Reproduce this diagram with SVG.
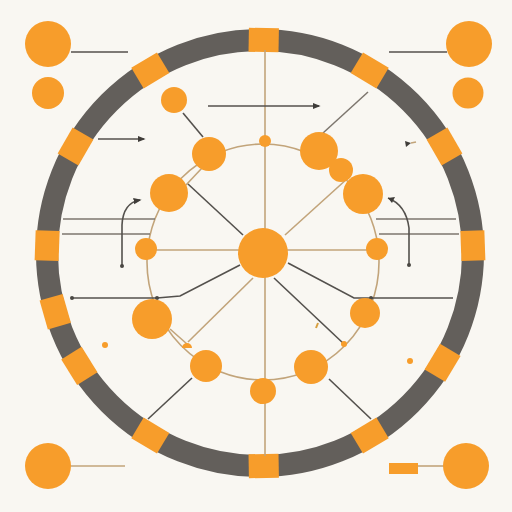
<svg xmlns="http://www.w3.org/2000/svg" width="512" height="512" viewBox="0 0 512 512">
<defs>
<style>
.o{fill:#f79d2b}
.tan{stroke:#c2a47a;stroke-width:1.6;fill:none}
.dk{stroke:#54514d;stroke-width:1.6;fill:none}
.md{stroke:#7d766e;stroke-width:1.5;fill:none}
.dot{fill:#4a4743}
</style>
<marker id="ah" viewBox="0 0 10 10" refX="8" refY="5" markerWidth="5" markerHeight="5" orient="auto">
<path d="M0,1 L10,5 L0,9 Z" fill="#3f3c39"/>
</marker>
<rect id="seg" x="-15" y="-12" width="30" height="24" fill="#f79d2b"/>
</defs>
<rect width="512" height="512" fill="#f9f7f2"/>
<g id="ring">
<circle cx="260" cy="253" r="213" fill="none" stroke="#635f5b" stroke-width="22"/>
<g transform="translate(260,253)">
<use href="#seg" transform="rotate(-89) translate(213,0) rotate(90)"/>
<use href="#seg" transform="rotate(-121) translate(213,0) rotate(90)"/>
<use href="#seg" transform="rotate(-150) translate(213,0) rotate(90)"/>
<use href="#seg" transform="rotate(182) translate(213,0) rotate(90)"/>
<use href="#seg" transform="rotate(164) translate(213,0) rotate(90)"/>
<use href="#seg" transform="rotate(148) translate(213,0) rotate(90)"/>
<use href="#seg" transform="rotate(121) translate(213,0) rotate(90)"/>
<use href="#seg" transform="rotate(89) translate(213,0) rotate(90)"/>
<use href="#seg" transform="rotate(59) translate(213,0) rotate(90)"/>
<use href="#seg" transform="rotate(31) translate(213,0) rotate(90)"/>
<use href="#seg" transform="rotate(-2) translate(213,0) rotate(90)"/>
<use href="#seg" transform="rotate(-30) translate(213,0) rotate(90)"/>
<use href="#seg" transform="rotate(-59) translate(213,0) rotate(90)"/>
</g>
</g>
<g id="connectors">
<ellipse class="tan" cx="263" cy="262" rx="116" ry="118"/>
<line class="tan" x1="265" y1="50" x2="265" y2="456"/>
<line class="tan" x1="146" y1="250" x2="378" y2="250"/>
<line class="tan" x1="285" y1="235" x2="348" y2="178"/>
<line class="tan" x1="253" y1="278" x2="188" y2="342"/>
<line class="tan" x1="170" y1="329" x2="187" y2="344"/>
<line class="tan" x1="202" y1="168" x2="186" y2="185"/>
<line class="tan" x1="71" y1="466" x2="125" y2="466"/>
<line class="tan" x1="418" y1="466" x2="444" y2="466"/>
<line class="md" x1="63" y1="219" x2="155" y2="219"/>
<line class="md" x1="62" y1="234" x2="150" y2="234"/>
<line class="md" x1="376" y1="219" x2="456" y2="219"/>
<line class="md" x1="379" y1="234" x2="459" y2="234"/>
<line class="md" x1="368" y1="92" x2="323" y2="133"/>
<line class="dk" x1="71" y1="52" x2="128" y2="52"/>
<line class="dk" x1="389" y1="52" x2="447" y2="52"/>
<line class="dk" x1="183" y1="113" x2="203" y2="137"/>
<line class="dk" x1="208" y1="106" x2="319" y2="106" marker-end="url(#ah)"/>
<line class="dk" x1="98" y1="139" x2="144" y2="139" marker-end="url(#ah)"/>
<line class="dk" x1="243" y1="235" x2="188" y2="184"/>
<path class="dk" d="M72,298 L157,298 L180,296 L240,265"/>
<path class="dk" d="M288,263 L354,298 L453,298"/>
<line class="dk" x1="274" y1="278" x2="344" y2="344"/>
<line class="dk" x1="329" y1="379" x2="371" y2="419"/>
<line class="dk" x1="192" y1="378" x2="148" y2="419"/>
<path class="dk" d="M122,265 L122,225 Q123,203 140,200" marker-end="url(#ah)"/>
<path class="dk" d="M409,265 L409,228 Q406,205 388,198"/>
<path d="M388,198 L395,197 L392,203 Z" fill="#3f3c39"/>
<path d="M405,141 L411,143 L406,147 Z" fill="#3f3c39"/>
<line class="tan" x1="411" y1="143" x2="416" y2="142"/>
<circle class="dot" cx="72" cy="298" r="2"/>
<circle class="dot" cx="157" cy="298" r="2"/>
<circle class="dot" cx="371" cy="298" r="2"/>
<circle class="dot" cx="122" cy="266" r="2"/>
<circle class="dot" cx="409" cy="265" r="2"/>
<path d="M182,348 A5,5 0 0 1 192,348 Z" class="o"/>
<circle class="o" cx="344" cy="344" r="3"/>
<circle class="o" cx="105" cy="345" r="3"/>
<circle class="o" cx="410" cy="361" r="3"/>
<line x1="316" y1="328" x2="318" y2="323" stroke="#d8a040" stroke-width="2"/>
</g>
<g id="hub"><circle class="o" cx="263" cy="253" r="25"/></g>
<g id="n1"><circle class="o" cx="209" cy="154" r="17"/></g>
<g id="n2"><circle class="o" cx="169" cy="193" r="19"/></g>
<g id="n3"><circle class="o" cx="146" cy="249" r="11"/></g>
<g id="n4"><circle class="o" cx="152" cy="319" r="20"/></g>
<g id="n5"><circle class="o" cx="206" cy="366" r="16"/></g>
<g id="n6"><circle class="o" cx="263" cy="391" r="13"/></g>
<g id="n7"><circle class="o" cx="311" cy="367" r="17"/></g>
<g id="n8"><circle class="o" cx="365" cy="313" r="15"/></g>
<g id="n9"><circle class="o" cx="377" cy="249" r="11"/></g>
<g id="n10"><circle class="o" cx="363" cy="194" r="20"/></g>
<g id="n11"><circle class="o" cx="341" cy="170" r="12"/></g>
<g id="n12"><circle class="o" cx="319" cy="151" r="19"/></g>
<g id="n13"><circle class="o" cx="265" cy="141" r="6"/></g>
<g id="n14"><circle class="o" cx="174" cy="100" r="13"/></g>
<g id="c-tl"><circle class="o" cx="48" cy="44" r="23"/></g>
<g id="c-tl2"><circle class="o" cx="48" cy="93" r="16"/></g>
<g id="c-tr"><circle class="o" cx="469" cy="44" r="23"/></g>
<g id="c-tr2"><circle class="o" cx="468" cy="93" r="15.5"/></g>
<g id="c-bl"><circle class="o" cx="48" cy="466" r="23"/></g>
<g id="c-br"><circle class="o" cx="466" cy="466" r="23"/><rect class="o" x="389" y="463" width="29" height="11"/></g>
</svg>
